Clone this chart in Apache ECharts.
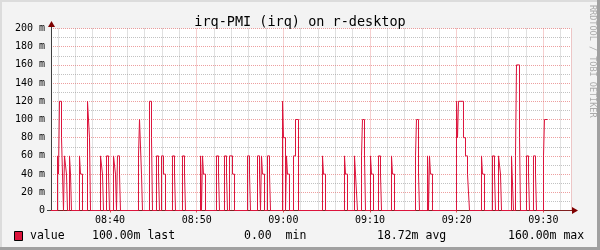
<!DOCTYPE html>
<html>
<head>
<meta charset="utf-8">
<script src="https://cdn.jsdelivr.net/npm/echarts@6/dist/echarts.min.js"></script>
<style>
  html, body { margin: 0; padding: 0; background: #F3F3F3; }
  #chart { width: 600px; height: 250px; }
</style>
</head>
<body>
<div id="chart"></div>
<script>
// Time in minutes after 08:00, value in milli-units (m)
const times = [
  33.190, 33.940, 34.055, 34.171, 34.402, 34.632, 34.748, 34.978, 35.094, 35.325, 35.440, 35.555,
  36.478, 36.594, 36.825, 37.402, 37.632, 37.748, 38.902, 39.132, 39.248, 39.594, 39.825, 39.940,
  40.402, 40.632, 40.748, 40.863, 41.094, 41.209, 43.286, 43.402, 43.632, 43.748, 44.555, 44.786,
  44.902, 45.363, 45.594, 45.709, 45.940, 46.171, 46.402, 47.209, 47.440, 47.555, 48.363, 48.594,
  48.709, 50.440, 50.555, 50.671, 50.786, 51.017, 52.286, 52.517, 52.632, 53.209, 53.440, 53.555,
  53.786, 54.132, 54.363, 55.863, 56.094, 56.209, 57.017, 57.248, 57.363, 57.478, 57.594, 57.825,
  58.171, 58.402, 58.517, 59.902, 60.017, 60.248, 60.363, 60.478, 60.709, 61.171, 61.402, 61.748,
  64.517, 64.632, 64.863, 67.055, 67.171, 67.402, 68.209, 68.325, 68.555, 69.017, 69.132, 69.363,
  69.478, 70.055, 70.171, 70.402, 70.978, 71.209, 71.325, 72.478, 72.594, 72.825, 75.248, 75.363,
  75.594, 75.709, 76.632, 76.748, 76.863, 76.978, 77.209, 79.978, 80.094, 80.209, 80.786, 81.017,
  81.248, 81.478, 82.863, 82.978, 83.209, 84.132, 84.363, 84.478, 84.825, 85.055, 85.171, 86.325,
  86.555, 86.786, 86.902, 87.248, 87.363, 88.055, 88.286, 88.402, 88.863, 89.094, 89.209, 90.017,
  90.132, 90.478
];
const values = [
  0, 60, 40, 120, 80, 0, 60, 40, 0, 60, 40, 0,
  60, 40, 0, 120, 80, 0, 60, 40, 0, 60, 40, 0,
  60, 40, 0, 60, 40, 0, 60, 100, 40, 0, 120, 80,
  0, 60, 40, 0, 60, 40, 0, 60, 40, 0, 60, 40,
  0, 60, 0, 60, 40, 0, 60, 40, 0, 60, 40, 0,
  60, 40, 0, 60, 40, 0, 60, 40, 0, 60, 40, 0,
  60, 40, 0, 120, 80, 0, 60, 40, 0, 60, 100, 0,
  60, 40, 0, 60, 40, 0, 60, 40, 0, 60, 100, 60,
  0, 60, 40, 0, 60, 40, 0, 60, 40, 0, 60, 100,
  40, 0, 60, 0, 60, 40, 0, 120, 80, 120, 80, 60,
  40, 0, 60, 40, 0, 60, 40, 0, 60, 40, 0, 60,
  0, 60, 160, 80, 0, 60, 40, 0, 60, 40, 0, 60,
  100, 100
];
const xRange = [33.19, 93.19];
const yRange = [0, 200];
const titleText = 'irq-PMI (irq) on r-desktop';
const legendName = 'value';
const legendStats = ['100.00m last', '0.00  min', '18.72m avg', '160.00m max'];
const watermark = 'RRDTOOL / TOBI OETIKER';

const MONO = '"DejaVu Sans Mono", monospace';
const LINE = '#DC143C';
const chart = echarts.init(document.getElementById('chart'), null, { renderer: 'canvas' });

function hhmm(v) {
  const m = Math.round(v);
  const h = Math.floor(m / 60) + 8;
  const mm = m % 60;
  return String(h).padStart(2, '0') + ':' + String(mm).padStart(2, '0');
}

// Build step path: each value holds until the next time stamp
const stepData = [];
times.forEach((t, i) => {
  if (i > 0) stepData.push([t, values[i - 1]]);
  stepData.push([t, values[i]]);
});

const statX = [92, 244, 377, 508];

chart.setOption({
  animation: false,
  backgroundColor: '#F3F3F3',
  title: {
    text: titleText, left: 'center', top: 10,
    textStyle: { fontFamily: MONO, fontSize: 13.5, fontWeight: 'normal', color: '#000' }
  },
  grid: { left: 51, right: 29, top: 28.5, bottom: 39.5, show: true, backgroundColor: '#FFFFFF', borderWidth: 0 },
  xAxis: {
    type: 'value', min: xRange[0], max: xRange[1], splitNumber: 6,
    axisLine: { show: true, onZero: false, lineStyle: { color: '#802020', width: 1 } },
    axisTick: { show: true, length: 2, lineStyle: { color: '#DE5050' } },
    axisLabel: { formatter: hhmm, fontFamily: MONO, fontSize: 10, color: '#000', margin: 5, showMinLabel: false, showMaxLabel: false },
    splitLine: { show: true, lineStyle: { color: 'rgba(222,80,80,0.55)', type: [1, 1], width: 1 } },
    minorTick: { show: false, splitNumber: 5 },
    minorSplitLine: { show: true, lineStyle: { color: 'rgba(143,143,143,0.55)', type: [1, 1], width: 1 } }
  },
  yAxis: {
    type: 'value', min: yRange[0], max: yRange[1], interval: 20,
    axisLine: { show: true, lineStyle: { color: '#404040', width: 1 } },
    axisTick: { show: false },
    axisLabel: { formatter: v => v === 0 ? '0' : v + ' m', fontFamily: MONO, fontSize: 10, color: '#000', margin: 6 },
    splitLine: { show: true, lineStyle: { color: 'rgba(222,80,80,0.55)', type: [1, 1], width: 1 } },
    minorTick: { show: false, splitNumber: 2 },
    minorSplitLine: { show: true, lineStyle: { color: 'rgba(143,143,143,0.55)', type: [1, 1], width: 1 } }
  },
  series: [{
    type: 'line', showSymbol: false, symbol: 'none', sampling: null,
    data: stepData,
    lineStyle: { color: LINE, width: 1, cap: 'butt', join: 'miter' },
    z: 5
  }],
  graphic: [
    // frame shading
    { type: 'rect', shape: { x: 0, y: 0, width: 600, height: 2 }, style: { fill: '#DCDCDC' }, silent: true },
    { type: 'rect', shape: { x: 0, y: 0, width: 2, height: 250 }, style: { fill: '#DCDCDC' }, silent: true },
    { type: 'rect', shape: { x: 597, y: 0, width: 3, height: 250 }, style: { fill: '#A0A0A0' }, silent: true },
    { type: 'rect', shape: { x: 0, y: 247, width: 600, height: 3 }, style: { fill: '#A0A0A0' }, silent: true },
    // axis extensions and arrows
    { type: 'line', shape: { x1: 571, y1: 210.5, x2: 573, y2: 210.5 }, style: { stroke: '#802020', lineWidth: 1 }, silent: true },
    { type: 'polygon', shape: { points: [[572, 207], [578, 210.5], [572, 214]] }, style: { fill: '#7F0000' }, silent: true },
    { type: 'line', shape: { x1: 51.5, y1: 28.5, x2: 51.5, y2: 25 }, style: { stroke: '#404040', lineWidth: 1 }, silent: true },
    { type: 'polygon', shape: { points: [[48, 27], [51.5, 21], [55, 27]] }, style: { fill: '#7F0000' }, silent: true },
    { type: 'line', shape: { x1: 47, y1: 210.5, x2: 51, y2: 210.5 }, style: { stroke: '#404040', lineWidth: 1 }, silent: true },
    // watermark
    { type: 'text', x: 592, y: 5, rotation: -Math.PI / 2,
      style: { text: watermark, font: '8.5px ' + MONO, fill: '#AAAAAA', textAlign: 'left', textVerticalAlign: 'middle' }, silent: true },
    // legend
    { type: 'rect', shape: { x: 14.5, y: 231.5, width: 8, height: 9 }, style: { fill: LINE, stroke: '#000', lineWidth: 1 }, silent: true },
    { type: 'text', x: 30, y: 236, style: { text: legendName, font: '11.5px ' + MONO, fill: '#000', textVerticalAlign: 'middle' }, silent: true },
    ...legendStats.map((s, i) => ({ type: 'text', x: statX[i], y: 236,
      style: { text: s, font: '11.5px ' + MONO, fill: '#000', textVerticalAlign: 'middle' }, silent: true }))
  ]
});
</script>
</body>
</html>
